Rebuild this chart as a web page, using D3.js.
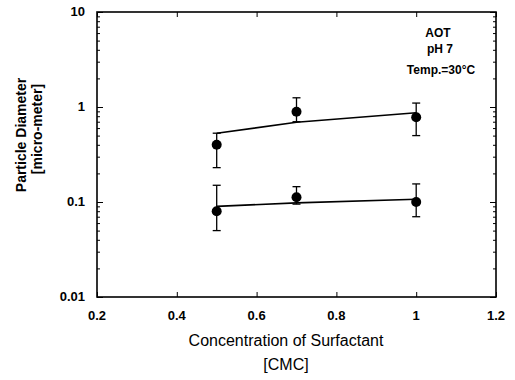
<!DOCTYPE html>
<html>
<head>
<meta charset="utf-8">
<script src="https://cdn.jsdelivr.net/npm/d3@7"></script>
<style>
  body { margin: 0; background: #fff; }
  text { font-family: "Liberation Sans", Arial, sans-serif; fill: #000; }
  .tick-label { font-weight: bold; font-size: 13px; }
</style>
</head>
<body>
<div id="chart"></div>
<script>
// concentration of surfactant [CMC]
var conc = [0.5, 0.7, 1.0];
// upper series (particle diameter, micro-meter)
var upperVal = [0.40, 0.89, 0.78];
var upperLow = [0.23, 0.70, 0.50];
var upperHigh = [0.53, 1.25, 1.10];
var upperFit = [0.53, 0.69, 0.87];
// lower series
var lowerVal = [0.080, 0.112, 0.100];
var lowerLow = [0.050, 0.095, 0.070];
var lowerHigh = [0.150, 0.145, 0.155];
var lowerFit = [0.090, 0.098, 0.107];

var xTicks = [0.2, 0.4, 0.6, 0.8, 1, 1.2];
var yTicks = [0.01, 0.1, 1, 10];
var notes = ['AOT', 'pH 7', 'Temp.=30\u00B0C'];

var width = 515, height = 380;
var pLeft = 97, pRight = 496, pTop = 12, pBottom = 297;

var svg = d3.select('#chart').append('svg')
  .attr('width', width)
  .attr('height', height);

var x = d3.scaleLinear().domain([0.2, 1.2]).range([pLeft, pRight]);
var y = d3.scaleLog().domain([0.01, 10]).range([pBottom, pTop]);

// minor log ticks
var minor = [];
[0.01, 0.1, 1].forEach(function(d) {
  for (var i = 2; i <= 9; i++) minor.push(d * i);
});

// frame
svg.append('rect')
  .attr('x', pLeft).attr('y', pTop)
  .attr('width', pRight - pLeft).attr('height', pBottom - pTop)
  .attr('fill', 'none').attr('stroke', '#000').attr('stroke-width', 1.6);

// axes, ticks pointing inward
svg.append('g')
  .attr('transform', 'translate(0,' + pBottom + ')')
  .call(d3.axisTop(x).tickValues(xTicks).tickSize(5).tickFormat(''))
  .call(function(g) { g.select('.domain').remove(); });
svg.append('g')
  .attr('transform', 'translate(0,' + pTop + ')')
  .call(d3.axisBottom(x).tickValues(xTicks).tickSize(5).tickFormat(''))
  .call(function(g) { g.select('.domain').remove(); });

[pLeft, pRight].forEach(function(px) {
  var mk = function() { return px === pLeft ? d3.axisRight(y) : d3.axisLeft(y); };
  svg.append('g')
    .attr('transform', 'translate(' + px + ',0)')
    .call(mk().tickValues(yTicks).tickSize(6).tickFormat(''))
    .call(function(g) { g.select('.domain').remove(); });
  svg.append('g')
    .attr('transform', 'translate(' + px + ',0)')
    .call(mk().tickValues(minor).tickSize(3).tickFormat(''))
    .call(function(g) { g.select('.domain').remove(); });
});

// tick labels
svg.selectAll('.xl')
  .data(xTicks).enter()
  .append('text')
  .attr('class', 'tick-label')
  .attr('x', function(d) { return x(d); })
  .attr('y', 320)
  .attr('text-anchor', 'middle')
  .text(function(d) { return d; });

svg.selectAll('.yl')
  .data(yTicks).enter()
  .append('text')
  .attr('class', 'tick-label')
  .attr('x', 85)
  .attr('y', function(d) { return y(d) + 4; })
  .attr('text-anchor', 'end')
  .text(function(d) { return d; });

// axis titles
svg.append('text')
  .attr('x', 286).attr('y', 346)
  .attr('text-anchor', 'middle')
  .style('font-size', '16px')
  .text('Concentration of Surfactant');
svg.append('text')
  .attr('x', 286).attr('y', 370)
  .attr('text-anchor', 'middle')
  .style('font-size', '16px')
  .text('[CMC]');

svg.append('text')
  .attr('transform', 'translate(26,135) rotate(-90)')
  .attr('text-anchor', 'middle')
  .style('font-size', '14px').style('font-weight', 'bold')
  .text('Particle Diameter');
svg.append('text')
  .attr('transform', 'translate(42,129) rotate(-90)')
  .attr('text-anchor', 'middle')
  .style('font-size', '14px').style('font-weight', 'bold')
  .text('[micro-meter]');

// notes
svg.selectAll('.note')
  .data(notes).enter()
  .append('text')
  .attr('x', function(d, i) { return [438, 440, 441][i]; })
  .attr('y', function(d, i) { return [37, 53, 74][i]; })
  .attr('text-anchor', 'middle')
  .style('font-size', '12px').style('font-weight', 'bold')
  .text(function(d) { return d; });

// series
var line = d3.line()
  .x(function(d) { return x(d[0]); })
  .y(function(d) { return y(d[1]); });

function drawSeries(val, low, high, fit) {
  svg.append('path')
    .datum(conc.map(function(c, i) { return [c, fit[i]]; }))
    .attr('d', line)
    .attr('fill', 'none').attr('stroke', '#000').attr('stroke-width', 1.6);

  var g = svg.append('g');
  conc.forEach(function(c, i) {
    var cx = x(c);
    g.append('line')
      .attr('x1', cx).attr('x2', cx)
      .attr('y1', y(low[i])).attr('y2', y(high[i]))
      .attr('stroke', '#000').attr('stroke-width', 1.3);
    [low[i], high[i]].forEach(function(v) {
      g.append('line')
        .attr('x1', cx - 4).attr('x2', cx + 4)
        .attr('y1', y(v)).attr('y2', y(v))
        .attr('stroke', '#000').attr('stroke-width', 1.3);
    });
    g.append('circle')
      .attr('cx', cx).attr('cy', y(val[i]))
      .attr('r', 5)
      .attr('fill', '#000');
  });
}

drawSeries(upperVal, upperLow, upperHigh, upperFit);
drawSeries(lowerVal, lowerLow, lowerHigh, lowerFit);
</script>
</body>
</html>
